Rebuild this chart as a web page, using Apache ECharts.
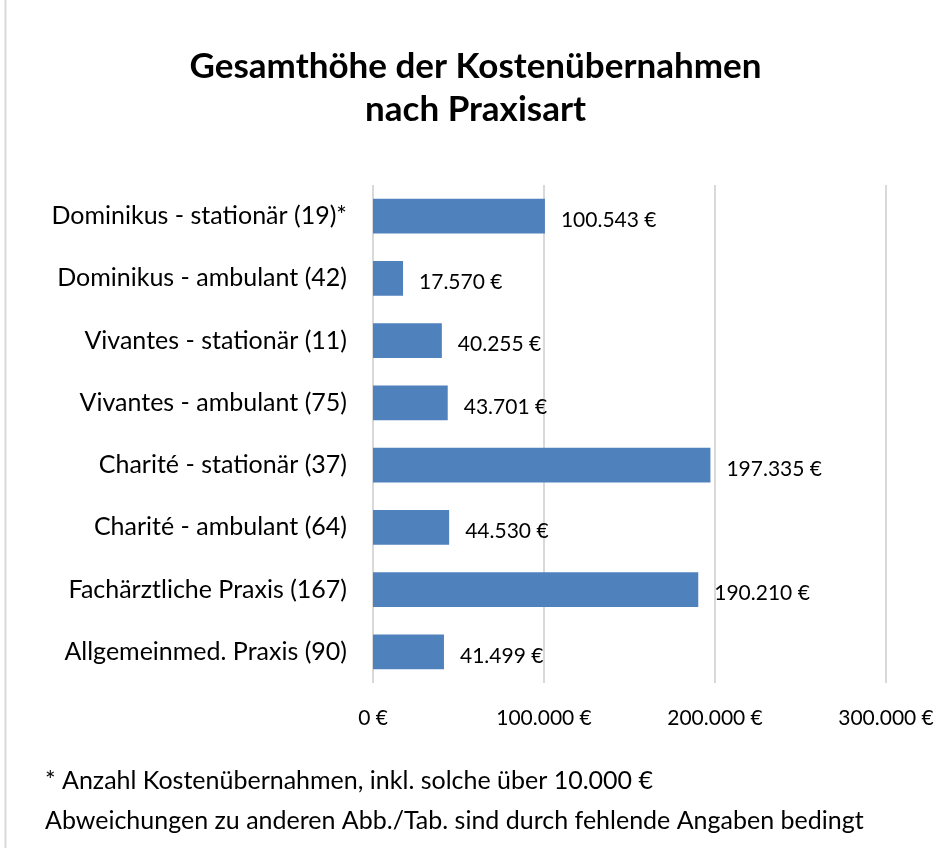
<!DOCTYPE html>
<html>
<head>
<meta charset="utf-8">
<script src="https://cdn.jsdelivr.net/npm/echarts@6/dist/echarts.min.js"></script>
<style>
html,body{margin:0;padding:0;background:#fff;}
#main{width:951px;height:848px;}
</style>
</head>
<body>
<div id="main"></div>
<script>
// Kategorien von oben nach unten
var categories = [
    "Dominikus - stationär (19)*",
    "Dominikus - ambulant (42)",
    "Vivantes - stationär (11)",
    "Vivantes - ambulant (75)",
    "Charité - stationär (37)",
    "Charité - ambulant (64)",
    "Fachärztliche Praxis (167)",
    "Allgemeinmed. Praxis (90)"
];
var values = [100543, 17570, 40255, 43701, 197335, 44530, 190210, 41499];
var axisTicks = [0, 100000, 200000, 300000];
var titleText = "Gesamthöhe der Kostenübernahmen\nnach Praxisart";
var footnotes = [
    "* Anzahl Kostenübernahmen, inkl. solche über 10.000 €",
    "Abweichungen zu anderen Abb./Tab. sind durch fehlende Angaben bedingt"
];

var FONT = "Lato";

function euro(v)
{
    var s = String(Math.round(v));
    s = s.replace(/\B(?=(\d{3})+(?!\d))/g, ".");
    return s + " €";
}

var myChart = echarts.init(document.getElementById("main"));

var option = {
    backgroundColor: "#fff",
    animation: false,
    title: {
        text: titleText,
        left: "center",
        top: 40,
        textStyle: {
            fontFamily: FONT,
            fontWeight: "bold",
            fontSize: 35,
            lineHeight: 43,
            color: "#000"
        }
    },
    grid: {
        left: 373,
        right: 65,
        top: 185,
        bottom: 165
    },
    xAxis: {
        type: "value",
        min: axisTicks[0],
        max: axisTicks[axisTicks.length - 1],
        interval: 100000,
        axisLine: {show: false},
        axisTick: {show: false},
        splitLine: {lineStyle: {color: "#d9d9d9", width: 2}},
        axisLabel: {
            margin: 25,
            fontFamily: FONT,
            fontSize: 21,
            color: "#000",
            formatter: function (v) { return euro(v); }
        }
    },
    yAxis: {
        type: "category",
        inverse: true,
        data: categories,
        axisLine: {show: false},
        axisTick: {show: false},
        axisLabel: {
            margin: 26,
            fontFamily: FONT,
            fontSize: 25,
            color: "#000"
        }
    },
    series: [{
        type: "bar",
        data: values,
        barWidth: "56%",
        itemStyle: {color: "#4f81bd"},
        label: {
            show: true,
            position: "right",
            distance: 16,
            offset: [0, 4],
            fontFamily: FONT,
            fontSize: 21,
            color: "#000",
            formatter: function (p) { return euro(p.value); }
        }
    }],
    graphic: [
        {
            type: "line",
            shape: {x1: 5.5, y1: 0, x2: 5.5, y2: 848},
            style: {stroke: "#d9d9d9", lineWidth: 2}
        },
        {
            type: "text",
            left: 45,
            top: 761,
            style: {
                text: footnotes.join("\n"),
                fontFamily: FONT,
                fontSize: 25,
                lineHeight: 40,
                fill: "#000"
            }
        }
    ]
};
myChart.setOption(option);
</script>
</body>
</html>
